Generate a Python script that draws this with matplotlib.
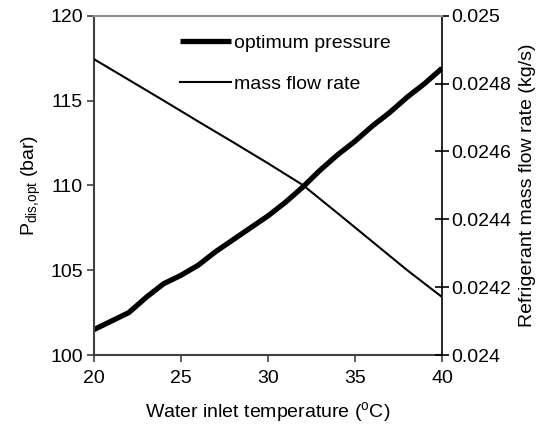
import matplotlib
matplotlib.use("Agg")
import matplotlib.pyplot as plt

plt.rcParams['font.family'] = ['Liberation Sans', 'DejaVu Sans']
plt.rcParams['mathtext.fontset'] = 'custom'
plt.rcParams['mathtext.rm'] = 'Liberation Sans'
plt.rcParams['mathtext.it'] = 'Liberation Sans:italic'

# 水入口温度 (°C)
temp = [20, 21, 22, 23, 24, 25, 26, 27, 28, 29, 30,
        31, 32, 33, 34, 35, 36, 37, 38, 39, 40]
# 最適圧力 (bar)
p_opt = [101.5, 102.0, 102.5, 103.4, 104.2, 104.7, 105.3, 106.1, 106.8, 107.5, 108.2,
         109.0, 109.9, 110.9, 111.8, 112.6, 113.5, 114.3, 115.2, 116.0, 116.9]
# 冷媒流量 (kg/s)
temp_m = [20, 22, 24, 26, 28, 30, 32, 34, 36, 38, 40]
m_flow = [0.024872, 0.024811, 0.024750, 0.024688, 0.024627, 0.024565,
          0.024501, 0.024418, 0.024334, 0.024250, 0.024171]

left_ticks = [100, 105, 110, 115, 120]
right_ticks = [0.024, 0.0242, 0.0244, 0.0246, 0.0248, 0.025]
x_ticks = [20, 25, 30, 35, 40]

FS = 14

fig = plt.figure(figsize=(5.49, 4.34), dpi=100)
ax = fig.add_axes([0.1712, 0.182, 0.6339, 0.7818])
ax2 = ax.twinx()

l1, = ax.plot(temp, p_opt, color="black", lw=3.8, solid_capstyle="butt",
              solid_joinstyle="round", label="optimum pressure")
l2, = ax2.plot(temp_m, m_flow, color="black", lw=1.5, label="mass flow rate")

ax.set_xlim(20, 40)
ax.set_ylim(100, 120)
ax2.set_ylim(0.024, 0.025)

ax.set_xticks(x_ticks)
ax.set_yticks(left_ticks)
ax2.set_yticks(right_ticks)
ax2.set_yticklabels([f"{v:g}" for v in right_ticks])

ax.tick_params(axis="both", direction="out", length=5, width=1.2,
               labelsize=FS, color="#404040", pad=3)
ax.tick_params(axis="x", pad=6)
ax2.tick_params(axis="y", direction="inout", length=10, width=1.2,
                labelsize=FS, color="black", pad=2)

for sp in ["left", "bottom"]:
    ax.spines[sp].set_color("#404040")
    ax.spines[sp].set_linewidth(1.5)
ax2.spines["top"].set_color("#909090")
ax2.spines["top"].set_linewidth(1.5)
ax2.spines["right"].set_color("black")
ax2.spines["right"].set_linewidth(1.2)
ax2.spines["left"].set_visible(False)
ax2.spines["bottom"].set_visible(False)
ax.spines["top"].set_visible(False)
ax.spines["right"].set_visible(False)

ax.set_xlabel(r"Water inlet temperature ($^{\rm o}$C)", fontsize=FS, labelpad=9)
ax.set_ylabel(r"P$_{\rm dis{,}opt}$ (bar)", fontsize=FS, labelpad=5)
ax2.set_ylabel("Refrigerant mass flow rate (kg/s)", fontsize=FS, labelpad=5)

ax2.legend(handles=[l1, l2], loc="upper left", bbox_to_anchor=(0.247, 0.946),
           frameon=False, fontsize=FS, handlelength=2.6, handletextpad=0.2,
           labelspacing=1.2, borderpad=0, borderaxespad=0)

fig.savefig("out.png", dpi=100)
